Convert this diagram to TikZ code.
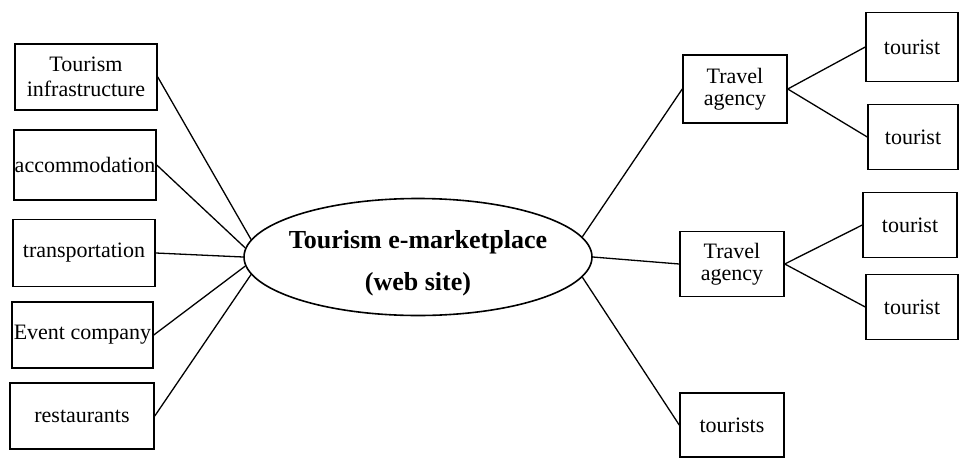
\documentclass[tikz,border=0pt]{standalone}
\usepackage{fontspec}
\setmainfont{Liberation Serif}
\usetikzlibrary{shapes.geometric,positioning}

\begin{document}
\begin{tikzpicture}[x=1pt,y=-1pt,
		box/.style={draw,line width=1.5pt,inner sep=0pt,align=center,font=\fontsize{22}{25}\selectfont},
		hub/.style={draw,ellipse,line width=1.6pt,inner xsep=-8pt,inner ysep=0pt,text height=72pt,minimum width=348pt,minimum height=117pt,align=center,font=\fontsize{26}{42}\selectfont\bfseries},
		link/.style={line width=1.3pt}]
		\useasboundingbox (0,0) rectangle (961,458);
		% centre
		\node[hub] (web) at (418,257) {Tourism e-marketplace\\(web site)};
		% suppliers on the left
		\node[box,minimum width=142pt,minimum height=66pt] (infra) at (86,77) {Tourism\\infrastructure};
		\node[box,minimum width=142pt,minimum height=70pt] (accom) at (85,165) {accommodation};
		\node[box,minimum width=142pt,minimum height=67pt] (transp) at (84,253) {transportation};
		\node[box,minimum width=141pt,minimum height=66pt] (event) at (82.5,335) {Event company};
		\node[box,minimum width=144pt,minimum height=66pt] (rest) at (82,416) {restaurants};
		% buyers on the right
		\node[box,minimum width=104pt,minimum height=68pt,font=\fontsize{22}{22}\selectfont] (agency1) at (735,89) {Travel\\agency};
		\node[box,minimum width=104pt,minimum height=65pt,font=\fontsize{22}{22}\selectfont] (agency2) at (732,264) {Travel\\agency};
		\node[box,minimum width=104pt,minimum height=64pt] (tourists) at (732,425) {tourists};
		\node[box,minimum width=92pt,minimum height=69pt] (t1) at (912,47) {tourist};
		\node[box,minimum width=90pt,minimum height=65pt] (t2) at (913,137) {tourist};
		\node[box,minimum width=94pt,minimum height=65pt] (t3) at (910,225) {tourist};
		\node[box,minimum width=92pt,minimum height=65pt] (t4) at (912,307) {tourist};

		\draw[link] (infra.east) -- (web.174);
		\draw[link] (accom.east) -- (web.177);
		\draw[link] (transp.east) -- (web.180);
		\draw[link] (event.east) -- (web.183);
		\draw[link] (rest.east) -- (web.186);
		\draw[link] (web.7) -- (agency1.west);
		\draw[link] (web.east) -- (agency2.west);
		\draw[link] (web.353) -- (tourists.west);
		\draw[link] (agency1.east) -- (t1.west);
		\draw[link] (agency1.east) -- (t2.west);
		\draw[link] (agency2.east) -- (t3.west);
		\draw[link] (agency2.east) -- (t4.west);
	\end{tikzpicture}
\end{document}
